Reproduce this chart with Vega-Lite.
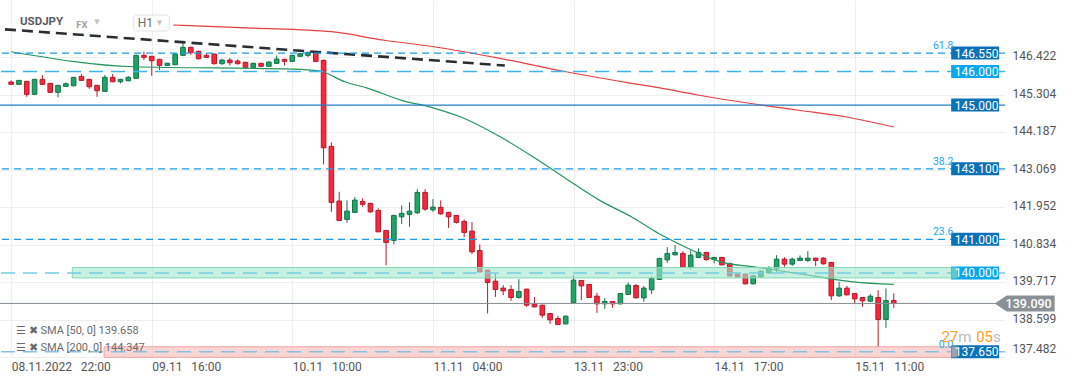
{
  "$schema": "https://vega.github.io/schema/vega-lite/v6.json",
  "width": 1005,
  "height": 358,
  "autosize": {"type": "none"},
  "padding": {"left": 0, "top": 0, "right": 67, "bottom": 24},
  "background": "#ffffff",
  "config": {"view": {"stroke": null}, "font": "Roboto"},
  "title": {"text": "USDJPY", "anchor": "start", "orient": "top", "frame": "group", "offset": -27, "dx": 20, "font": "Roboto", "fontSize": 11.5, "fontWeight": "bold", "color": "#5a5b5d"},
  "datasets": {
    "candles": [
      {"i":0,"o":145.686,"h":145.736,"l":145.605,"c":145.617},
      {"i":1,"o":145.617,"h":145.745,"l":145.605,"c":145.736},
      {"i":2,"o":145.706,"h":145.720,"l":145.247,"c":145.319},
      {"i":3,"o":145.319,"h":145.780,"l":145.300,"c":145.766},
      {"i":4,"o":145.766,"h":145.894,"l":145.600,"c":145.617},
      {"i":5,"o":145.647,"h":145.660,"l":145.360,"c":145.379},
      {"i":6,"o":145.379,"h":145.600,"l":145.230,"c":145.587},
      {"i":7,"o":145.557,"h":145.677,"l":145.540,"c":145.635},
      {"i":8,"o":145.575,"h":145.840,"l":145.560,"c":145.826},
      {"i":9,"o":145.856,"h":145.924,"l":145.720,"c":145.736},
      {"i":10,"o":145.766,"h":145.780,"l":145.486,"c":145.546},
      {"i":11,"o":145.587,"h":145.600,"l":145.247,"c":145.426},
      {"i":12,"o":145.408,"h":145.894,"l":145.390,"c":145.826},
      {"i":13,"o":145.826,"h":145.924,"l":145.680,"c":145.695},
      {"i":14,"o":145.695,"h":145.780,"l":145.647,"c":145.766},
      {"i":15,"o":145.724,"h":145.864,"l":145.710,"c":145.826},
      {"i":16,"o":145.796,"h":146.500,"l":145.780,"c":146.481},
      {"i":17,"o":146.481,"h":146.589,"l":146.341,"c":146.422},
      {"i":18,"o":146.452,"h":146.470,"l":145.873,"c":146.320},
      {"i":19,"o":146.362,"h":146.380,"l":146.043,"c":146.183},
      {"i":20,"o":146.177,"h":146.260,"l":146.160,"c":146.246},
      {"i":21,"o":146.201,"h":146.530,"l":146.190,"c":146.520},
      {"i":22,"o":146.481,"h":146.857,"l":146.470,"c":146.720},
      {"i":23,"o":146.720,"h":146.740,"l":146.499,"c":146.559},
      {"i":24,"o":146.601,"h":146.620,"l":146.360,"c":146.380},
      {"i":25,"o":146.481,"h":146.541,"l":146.400,"c":146.422},
      {"i":26,"o":146.520,"h":146.540,"l":146.210,"c":146.231},
      {"i":27,"o":146.231,"h":146.380,"l":146.201,"c":146.341},
      {"i":28,"o":146.341,"h":146.401,"l":146.183,"c":146.261},
      {"i":29,"o":146.312,"h":146.362,"l":146.210,"c":146.231},
      {"i":30,"o":146.273,"h":146.290,"l":146.100,"c":146.124},
      {"i":31,"o":146.124,"h":146.260,"l":146.110,"c":146.243},
      {"i":32,"o":146.243,"h":146.260,"l":146.140,"c":146.154},
      {"i":33,"o":146.154,"h":146.300,"l":146.140,"c":146.282},
      {"i":34,"o":146.243,"h":146.481,"l":146.230,"c":146.371},
      {"i":35,"o":146.362,"h":146.380,"l":146.183,"c":146.303},
      {"i":36,"o":146.303,"h":146.500,"l":146.290,"c":146.481},
      {"i":37,"o":146.452,"h":146.559,"l":146.440,"c":146.529},
      {"i":38,"o":146.481,"h":146.590,"l":146.422,"c":146.571},
      {"i":39,"o":146.565,"h":146.590,"l":146.280,"c":146.297},
      {"i":40,"o":146.332,"h":146.360,"l":143.233,"c":143.727},
      {"i":41,"o":143.769,"h":143.888,"l":141.820,"c":142.100},
      {"i":42,"o":142.139,"h":142.416,"l":141.550,"c":141.563},
      {"i":43,"o":141.593,"h":142.160,"l":141.492,"c":141.841},
      {"i":44,"o":141.802,"h":142.258,"l":141.790,"c":142.169},
      {"i":45,"o":142.130,"h":142.219,"l":141.969,"c":142.040},
      {"i":46,"o":142.070,"h":142.090,"l":141.790,"c":141.820},
      {"i":47,"o":141.861,"h":141.921,"l":141.210,"c":141.224},
      {"i":48,"o":141.265,"h":141.280,"l":140.231,"c":140.908},
      {"i":49,"o":140.967,"h":141.730,"l":140.848,"c":141.712},
      {"i":50,"o":141.671,"h":142.011,"l":141.453,"c":141.772},
      {"i":51,"o":141.742,"h":142.109,"l":141.373,"c":141.841},
      {"i":52,"o":141.790,"h":142.496,"l":141.760,"c":142.398},
      {"i":53,"o":142.398,"h":142.496,"l":141.850,"c":141.900},
      {"i":54,"o":141.879,"h":142.198,"l":141.820,"c":141.960},
      {"i":55,"o":141.951,"h":142.160,"l":141.730,"c":141.760},
      {"i":56,"o":141.802,"h":141.820,"l":141.343,"c":141.671},
      {"i":57,"o":141.712,"h":141.730,"l":141.474,"c":141.504},
      {"i":58,"o":141.534,"h":141.593,"l":141.066,"c":141.206},
      {"i":59,"o":141.245,"h":141.513,"l":140.559,"c":140.628},
      {"i":60,"o":140.669,"h":140.848,"l":140.010,"c":140.031},
      {"i":61,"o":140.082,"h":140.100,"l":138.791,"c":139.716},
      {"i":62,"o":139.754,"h":139.984,"l":139.286,"c":139.507},
      {"i":63,"o":139.546,"h":139.635,"l":139.337,"c":139.465},
      {"i":64,"o":139.507,"h":139.635,"l":139.167,"c":139.268},
      {"i":65,"o":139.268,"h":139.814,"l":139.239,"c":139.447},
      {"i":66,"o":139.516,"h":139.530,"l":138.988,"c":139.039},
      {"i":67,"o":139.078,"h":139.277,"l":138.970,"c":138.988},
      {"i":68,"o":139.039,"h":139.050,"l":138.660,"c":138.741},
      {"i":69,"o":138.791,"h":138.800,"l":138.481,"c":138.601},
      {"i":70,"o":138.642,"h":138.720,"l":138.450,"c":138.464},
      {"i":71,"o":138.481,"h":138.730,"l":138.470,"c":138.711},
      {"i":72,"o":139.107,"h":139.933,"l":139.090,"c":139.784},
      {"i":73,"o":139.775,"h":139.790,"l":139.188,"c":139.614},
      {"i":74,"o":139.656,"h":139.670,"l":139.250,"c":139.268},
      {"i":75,"o":139.307,"h":139.405,"l":138.809,"c":139.078},
      {"i":76,"o":139.078,"h":139.248,"l":138.929,"c":139.149},
      {"i":77,"o":139.149,"h":139.160,"l":138.958,"c":139.078},
      {"i":78,"o":139.078,"h":139.400,"l":139.060,"c":139.388},
      {"i":79,"o":139.358,"h":139.716,"l":139.340,"c":139.635},
      {"i":80,"o":139.626,"h":139.665,"l":139.240,"c":139.257},
      {"i":81,"o":139.257,"h":139.614,"l":139.137,"c":139.546},
      {"i":82,"o":139.495,"h":139.894,"l":139.367,"c":139.835},
      {"i":83,"o":139.805,"h":140.450,"l":139.790,"c":140.431},
      {"i":84,"o":140.389,"h":140.768,"l":140.300,"c":140.580},
      {"i":85,"o":140.538,"h":140.827,"l":140.520,"c":140.610},
      {"i":86,"o":140.580,"h":140.648,"l":140.140,"c":140.162},
      {"i":87,"o":140.162,"h":140.669,"l":140.103,"c":140.529},
      {"i":88,"o":140.461,"h":140.729,"l":140.440,"c":140.610},
      {"i":89,"o":140.610,"h":140.630,"l":140.359,"c":140.401},
      {"i":90,"o":140.401,"h":140.480,"l":140.282,"c":140.461},
      {"i":91,"o":140.461,"h":140.480,"l":140.220,"c":140.240},
      {"i":92,"o":140.282,"h":140.300,"l":139.890,"c":139.912},
      {"i":93,"o":139.963,"h":139.980,"l":139.860,"c":139.882},
      {"i":94,"o":139.963,"h":139.980,"l":139.660,"c":139.674},
      {"i":95,"o":139.674,"h":139.930,"l":139.660,"c":139.912},
      {"i":96,"o":139.882,"h":140.070,"l":139.870,"c":140.052},
      {"i":97,"o":140.002,"h":140.201,"l":139.990,"c":140.162},
      {"i":98,"o":140.121,"h":140.529,"l":140.002,"c":140.410},
      {"i":99,"o":140.410,"h":140.470,"l":140.180,"c":140.261},
      {"i":100,"o":140.261,"h":140.461,"l":140.210,"c":140.410},
      {"i":101,"o":140.371,"h":140.520,"l":140.360,"c":140.440},
      {"i":102,"o":140.371,"h":140.648,"l":140.321,"c":140.440},
      {"i":103,"o":140.440,"h":140.450,"l":140.201,"c":140.371},
      {"i":104,"o":140.440,"h":140.470,"l":140.250,"c":140.270},
      {"i":105,"o":140.312,"h":140.330,"l":139.188,"c":139.316},
      {"i":106,"o":139.316,"h":139.733,"l":139.286,"c":139.546},
      {"i":107,"o":139.546,"h":139.614,"l":139.330,"c":139.346},
      {"i":108,"o":139.388,"h":139.400,"l":139.098,"c":139.227},
      {"i":109,"o":139.268,"h":139.280,"l":138.988,"c":139.167},
      {"i":110,"o":139.158,"h":139.367,"l":139.128,"c":139.307},
      {"i":111,"o":139.268,"h":139.486,"l":137.802,"c":138.613},
      {"i":112,"o":138.613,"h":139.537,"l":138.362,"c":139.179},
      {"i":113,"o":139.179,"h":139.388,"l":138.958,"c":139.090}
    ],
    "sma": [
      {"s":"SMA [50, 0] 139.658","i":0,"v":146.589},
      {"s":"SMA [50, 0] 139.658","i":15.7,"v":146.142},
      {"s":"SMA [50, 0] 139.658","i":36,"v":146.073},
      {"s":"SMA [50, 0] 139.658","i":39.4,"v":146.022},
      {"s":"SMA [50, 0] 139.658","i":42.7,"v":145.695},
      {"s":"SMA [50, 0] 139.658","i":45.7,"v":145.498},
      {"s":"SMA [50, 0] 139.658","i":49.9,"v":145.149},
      {"s":"SMA [50, 0] 139.658","i":54.1,"v":144.911},
      {"s":"SMA [50, 0] 139.658","i":57.5,"v":144.651},
      {"s":"SMA [50, 0] 139.658","i":62.6,"v":144.055},
      {"s":"SMA [50, 0] 139.658","i":66.8,"v":143.459},
      {"s":"SMA [50, 0] 139.658","i":71,"v":142.815},
      {"s":"SMA [50, 0] 139.658","i":75.3,"v":142.168},
      {"s":"SMA [50, 0] 139.658","i":79.4,"v":141.671},
      {"s":"SMA [50, 0] 139.658","i":82.9,"v":141.176},
      {"s":"SMA [50, 0] 139.658","i":83.7,"v":141.075},
      {"s":"SMA [50, 0] 139.658","i":87.6,"v":140.628},
      {"s":"SMA [50, 0] 139.658","i":90.8,"v":140.329},
      {"s":"SMA [50, 0] 139.658","i":95.1,"v":140.180},
      {"s":"SMA [50, 0] 139.658","i":99.3,"v":140.031},
      {"s":"SMA [50, 0] 139.658","i":103.5,"v":139.882},
      {"s":"SMA [50, 0] 139.658","i":107.8,"v":139.733},
      {"s":"SMA [50, 0] 139.658","i":113,"v":139.658},
      {"s":"SMA [200, 0] 144.347","i":20.76,"v":147.385},
      {"s":"SMA [200, 0] 144.347","i":30.9,"v":147.295},
      {"s":"SMA [200, 0] 144.347","i":41.04,"v":147.185},
      {"s":"SMA [200, 0] 144.347","i":47.59,"v":146.938},
      {"s":"SMA [200, 0] 144.347","i":54.09,"v":146.738},
      {"s":"SMA [200, 0] 144.347","i":62.58,"v":146.393},
      {"s":"SMA [200, 0] 144.347","i":71.04,"v":145.993},
      {"s":"SMA [200, 0] 144.347","i":79.44,"v":145.648},
      {"s":"SMA [200, 0] 144.347","i":82.86,"v":145.517},
      {"s":"SMA [200, 0] 144.347","i":87.93,"v":145.299},
      {"s":"SMA [200, 0] 144.347","i":94.27,"v":145.061},
      {"s":"SMA [200, 0] 144.347","i":100.61,"v":144.853},
      {"s":"SMA [200, 0] 144.347","i":106.95,"v":144.644},
      {"s":"SMA [200, 0] 144.347","i":113,"v":144.347}
    ],
    "trend": [
      {"i":-0.79,"v":147.256},
      {"i":63.2,"v":146.178}
    ],
    "zones": [
      {"zone":"support","start":7.83,"lo":139.85,"hi":140.16},
      {"zone":"target","start":11.9,"lo":137.486,"hi":137.80}
    ],
    "levels": [
      {"price":146.55,"label":"146.550","style":"fib","box":"dark","fib":"61.8"},
      {"price":146.0,"label":"146.000","style":"long","box":"light","fib":null},
      {"price":145.0,"label":"145.000","style":"solid","box":"dark","fib":null},
      {"price":143.1,"label":"143.100","style":"fib","box":"dark","fib":"38.2"},
      {"price":141.0,"label":"141.000","style":"fib","box":"dark","fib":"23.6"},
      {"price":140.0,"label":"140.000","style":"zone","box":"light","fib":null},
      {"price":137.65,"label":"137.650","style":"zone","box":"dark","fib":"0.0"}
    ],
    "last": [
      {"price":139.09,"label":"139.090"}
    ],
    "one": [{}]
  },
  "layer": [
    {
      "data": {"name": "candles"},
      "mark": {"type": "rule", "strokeWidth": 1},
      "encoding": {
        "x": {"field": "i", "type": "quantitative",
          "scale": {"domain": [-0.786, 126.6], "nice": false, "zero": false},
          "axis": {"values": [0,18,36,54,72,90,108],
            "labelExpr": "datum.value == 0 ? '08.11.2022\u00a0\u00a0\u00a022:00' : datum.value == 18 ? '09.11\u00a0\u00a0\u00a016:00' : datum.value == 36 ? '10.11\u00a0\u00a0\u00a010:00' : datum.value == 54 ? '11.11\u00a0\u00a0\u00a004:00' : datum.value == 72 ? '13.11\u00a0\u00a0\u00a023:00' : datum.value == 90 ? '14.11\u00a0\u00a0\u00a017:00' : '15.11\u00a0\u00a0\u00a011:00'",
            "labelAlign": "left", "labelBaseline": "top", "labelPadding": 3, "labelFont": "Roboto", "labelFontSize": 12, "labelColor": "#555555",
            "ticks": false, "domain": false, "grid": true, "gridColor": "#eeeeee", "gridWidth": 1, "title": null, "labelFlush": false, "labelOverlap": false, "labelBound": false}},
        "y": {"field": "l", "type": "quantitative",
          "scale": {"domain": [137.465, 148.13], "nice": false, "zero": false},
          "axis": {"orient": "right", "values": [137.482,138.599,139.717,140.834,141.952,143.069,144.187,145.304,146.422], "format": ".3f",
            "labelFont": "Roboto", "labelFontSize": 12, "labelColor": "#555555", "labelPadding": 7, "labelOffset": -1.5, "ticks": false, "domain": false,
            "grid": true, "gridColor": "#eeeeee", "gridWidth": 1, "labelFlush": 3, "title": null, "labelOverlap": false}},
        "y2": {"field": "h"},
        "color": {"condition": {"test": "datum.c >= datum.o", "value": "#137249"}, "value": "#b5192c"}
      }
    },
    {
      "data": {"name": "candles"},
      "mark": {"type": "bar", "width": 4.6, "strokeWidth": 1},
      "encoding": {
        "x": {"field": "i", "type": "quantitative"},
        "y": {"field": "o", "type": "quantitative"},
        "y2": {"field": "c"},
        "fill": {"condition": {"test": "datum.c >= datum.o", "value": "#1fa566"}, "value": "#f8283b"},
        "stroke": {"condition": {"test": "datum.c >= datum.o", "value": "#137249"}, "value": "#b5192c"}
      }
    },
    {
      "data": {"name": "sma"},
      "mark": {"type": "line", "strokeWidth": 1.2, "interpolate": "monotone"},
      "encoding": {
        "x": {"field": "i", "type": "quantitative"},
        "y": {"field": "v", "type": "quantitative"},
        "stroke": {"field": "s", "type": "nominal",
          "scale": {"domain": ["SMA [50, 0] 139.658", "SMA [200, 0] 144.347"], "range": ["#23955f", "#e53f3f"]},
          "legend": {"orient": "bottom-left", "offset": 5, "padding": 0, "title": null, "labelFont": "Roboto", "labelFontSize": 11, "labelColor": "#6b6b6b",
            "symbolSize": 0, "symbolStrokeWidth": 0, "symbolOpacity": 0, "labelOffset": 0, "rowPadding": 5, "labelExpr": "'☰ ✖ ' + datum.label"}}
      }
    },
    {
      "data": {"name": "trend"},
      "mark": {"type": "line", "strokeWidth": 2.6, "strokeDash": [11, 6], "color": "#2a2e33"},
      "encoding": {
        "x": {"field": "i", "type": "quantitative"},
        "y": {"field": "v", "type": "quantitative"}
      }
    },
    {
      "data": {"name": "zones"},
      "mark": {"type": "rect", "strokeWidth": 1},
      "encoding": {
        "x": {"field": "start", "type": "quantitative"},
        "x2": {"datum": 120.5},
        "y": {"field": "lo", "type": "quantitative"},
        "y2": {"field": "hi"},
        "fill": {"condition": {"test": "datum.zone == 'support'", "value": "#a3e6cd"}, "value": "#fab9b9"},
        "fillOpacity": {"value": 0.6},
        "stroke": {"condition": {"test": "datum.zone == 'support'", "value": "#86d8b8"}, "value": "#f4a3a3"}
      }
    },
    {
      "data": {"name": "levels"},
      "transform": [{"filter": "datum.style == 'fib'"}],
      "mark": {"type": "rule", "strokeWidth": 1.2, "strokeDash": [7, 5], "color": "#1b9ae4"},
      "encoding": {"y": {"field": "price", "type": "quantitative"}}
    },
    {
      "data": {"name": "levels"},
      "transform": [{"filter": "datum.style == 'long'"}],
      "mark": {"type": "rule", "strokeWidth": 1.6, "strokeDash": [14, 8], "color": "#3cb4f0"},
      "encoding": {"y": {"field": "price", "type": "quantitative"}}
    },
    {
      "data": {"name": "levels"},
      "transform": [{"filter": "datum.style == 'zone'"}],
      "mark": {"type": "rule", "strokeWidth": 1.5, "strokeDash": [14, 8]},
      "encoding": {
        "y": {"field": "price", "type": "quantitative"},
        "color": {"condition": {"test": "datum.price == 140", "value": "#74cde3"}, "value": "#86bfe4"}
      }
    },
    {
      "data": {"name": "levels"},
      "transform": [{"filter": "datum.style == 'solid'"}],
      "mark": {"type": "rule", "strokeWidth": 1.3, "color": "#1f80c8"},
      "encoding": {"y": {"field": "price", "type": "quantitative"}}
    },
    {
      "data": {"name": "last"},
      "mark": {"type": "rule", "strokeWidth": 1, "color": "#878d91"},
      "encoding": {"y": {"field": "price", "type": "quantitative"}}
    },
    {
      "data": {"name": "levels"},
      "mark": {"type": "point", "filled": true, "shape": "M-3.692,-1H3.692V1H-3.692Z", "size": 169, "opacity": 1, "strokeWidth": 0},
      "encoding": {
        "x": {"datum": 123.42},
        "y": {"field": "price", "type": "quantitative"},
        "fill": {"condition": {"test": "datum.box == 'light'", "value": "#08a8ee"}, "value": "#0c72b8"}
      }
    },
    {
      "data": {"name": "levels"},
      "transform": [{"filter": "datum.style == 'zone'"}],
      "mark": {"type": "point", "filled": true, "shape": "M-0.545,-1H0.545V1H-0.545Z", "size": 121, "opacity": 1, "strokeWidth": 0},
      "encoding": {
        "x": {"datum": 120.76},
        "y": {"field": "price", "type": "quantitative"},
        "fill": {"condition": {"test": "datum.price == 140", "value": "#5fc9cf"}, "value": "#98a4b4"}
      }
    },
    {
      "data": {"name": "levels"},
      "mark": {"type": "text", "align": "center", "baseline": "middle", "font": "Roboto", "fontSize": 12, "color": "#ffffff", "dy": 0.5},
      "encoding": {
        "x": {"datum": 123.6},
        "y": {"field": "price", "type": "quantitative"},
        "text": {"field": "label"}
      }
    },
    {
      "data": {"name": "levels"},
      "transform": [{"filter": "datum.fib != null"}],
      "mark": {"type": "text", "align": "right", "baseline": "alphabetic", "font": "Roboto", "fontSize": 10.5, "color": "#27a6e8", "dy": -4},
      "encoding": {
        "x": {"datum": 120.64},
        "y": {"field": "price", "type": "quantitative"},
        "text": {"field": "fib"}
      }
    },
    {
      "data": {"name": "last"},
      "mark": {"type": "point", "filled": true, "shape": "M-3.75,0L-2.25,-1H3.75V1H-2.25Z", "size": 256, "opacity": 1, "strokeWidth": 0, "color": "#8a9196"},
      "encoding": {
        "x": {"datum": 129.76},
        "y": {"field": "price", "type": "quantitative"}
      }
    },
    {
      "data": {"name": "last"},
      "mark": {"type": "text", "align": "center", "baseline": "middle", "font": "Roboto", "fontSize": 12.5, "fontWeight": 500, "color": "#ffffff", "dy": 0.5},
      "encoding": {
        "x": {"datum": 130.27},
        "y": {"field": "price", "type": "quantitative"},
        "text": {"field": "label"}
      }
    },
    {
      "data": {"name": "one"},
      "mark": {"type": "rect", "cornerRadius": 3, "fill": "#ffffff", "stroke": "#e2e2e2", "strokeWidth": 1},
      "encoding": {
        "x": {"datum": 15.69}, "x2": {"datum": 20.25},
        "y": {"datum": 147.682}, "y2": {"datum": 147.206}
      }
    },
    {
      "data": {"name": "one"},
      "mark": {"type": "text", "text": "FX", "align": "left", "baseline": "middle", "font": "Roboto", "fontSize": 9.5, "fontWeight": "bold", "color": "#a3a3a3"},
      "encoding": {"x": {"datum": 8.34}, "y": {"datum": 147.40}}
    },
    {
      "data": {"name": "one"},
      "mark": {"type": "text", "text": "▼", "align": "center", "baseline": "middle", "font": "DejaVu Sans", "fontSize": 7, "color": "#c4c4c4"},
      "encoding": {"x": {"datum": 11.0}, "y": {"datum": 147.47}}
    },
    {
      "data": {"name": "one"},
      "mark": {"type": "text", "text": "H1", "align": "left", "baseline": "middle", "font": "Roboto", "fontSize": 12, "color": "#6b6b6b"},
      "encoding": {"x": {"datum": 16.2}, "y": {"datum": 147.43}}
    },
    {
      "data": {"name": "one"},
      "mark": {"type": "text", "text": "▼", "align": "center", "baseline": "middle", "font": "DejaVu Sans", "fontSize": 7, "color": "#c4c4c4"},
      "encoding": {"x": {"datum": 19.0}, "y": {"datum": 147.43}}
    },
    {
      "data": {"name": "one"},
      "mark": {"type": "text", "text": "27", "align": "left", "baseline": "alphabetic", "font": "Roboto", "fontSize": 15, "color": "#ff9d1e"},
      "encoding": {"x": {"datum": 119.1}, "y": {"datum": 137.93}}
    },
    {
      "data": {"name": "one"},
      "mark": {"type": "text", "text": "m", "align": "left", "baseline": "alphabetic", "font": "Roboto", "fontSize": 15, "color": "#b8bcc0"},
      "encoding": {"x": {"datum": 121.26}, "y": {"datum": 137.93}}
    },
    {
      "data": {"name": "one"},
      "mark": {"type": "text", "text": "05", "align": "left", "baseline": "alphabetic", "font": "Roboto", "fontSize": 15, "color": "#ff9d1e"},
      "encoding": {"x": {"datum": 123.55}, "y": {"datum": 137.93}}
    },
    {
      "data": {"name": "one"},
      "mark": {"type": "text", "text": "s", "align": "left", "baseline": "alphabetic", "font": "Roboto", "fontSize": 15, "color": "#b8bcc0"},
      "encoding": {"x": {"datum": 125.7}, "y": {"datum": 137.93}}
    }
  ]
}
